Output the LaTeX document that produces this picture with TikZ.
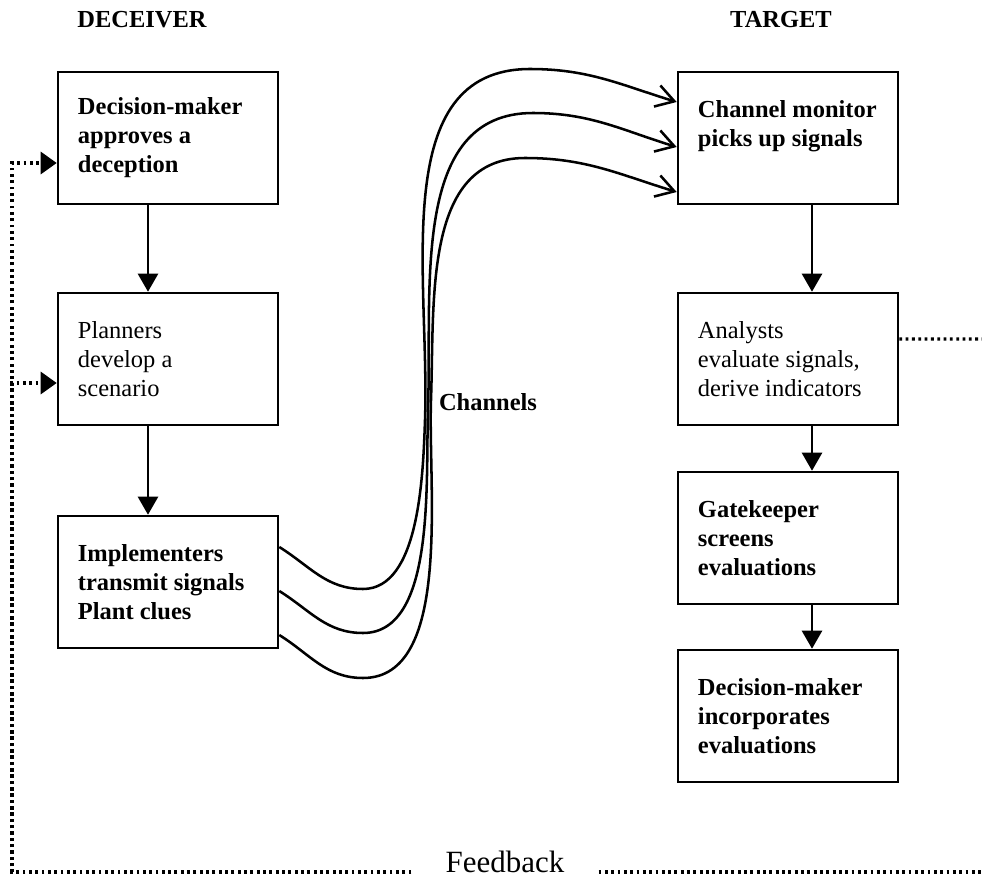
\documentclass[tikz,border=0pt]{standalone}
\usepackage{fontspec}
\setmainfont{Liberation Serif}
\usetikzlibrary{arrows.meta}

\begin{document}
\begin{tikzpicture}[x=0.025cm,y=-0.025cm,
    box/.style={draw, line width=1.8pt, minimum width=5.5cm, minimum height=3.3cm,
        text width=4.5cm, inner xsep=0.5cm, align=flush left,
        font=\fontsize{17.4}{20.6}\selectfont},
    boldbox/.style={box, font=\fontsize{17.4}{20.6}\selectfont\bfseries},
    head/.style={font=\fontsize{17.4}{20.6}\selectfont\bfseries},
    flow/.style={line width=1.8pt, -{Triangle[width=0.5cm,length=0.45cm]}},
    chan/.style={line width=1.8pt, -{Straight Barb[width=0.55cm,length=0.45cm]}},
    fback/.style={line width=2.2pt, dash pattern=on 2pt off 2.5pt}]
    \useasboundingbox (0,0) rectangle (982,880);

    \node[head] (dec) at (142,20) {DECEIVER};
    \node[head] (tgt) at (781,20) {TARGET};

    % deceiver side
    \node[boldbox] (dm) at (168,138) {Decision-maker\\approves~a\\deception};
    \node[box] (plan) at (168,359) {Planners\\develop~a\\scenario};
    \node[boldbox] (imp) at (168,582) {Implementers\\transmit~signals\\Plant~clues};

    % target side
    \node[boldbox] (mon) at (788,138) {Channel~monitor\\picks~up~signals\\\mbox{}};
    \node[box] (ana) at (788,359) {Analysts\\evaluate~signals,\\derive~indicators};
    \node[boldbox] (gate) at (788,538) {Gatekeeper\\screens\\evaluations};
    \node[boldbox] (inc) at (788,716) {Decision-maker\\incorporates\\evaluations};

    \draw[flow] ([xshift=-0.5cm]dm.south) -- ([xshift=-0.5cm]plan.north);
    \draw[flow] ([xshift=-0.5cm]plan.south) -- ([xshift=-0.5cm]imp.north);
    \draw[flow] ([xshift=0.6cm]mon.south) -- ([xshift=0.6cm]ana.north);
    \draw[flow] ([xshift=0.6cm]ana.south) -- ([xshift=0.6cm]gate.north);
    \draw[flow] ([xshift=0.6cm]gate.south) -- ([xshift=0.6cm]inc.north);

    % channels
    \draw[chan] ([yshift=0.875cm]imp.east) to[out=-32,in=180] (363,589)
        to[out=0,in=-92,looseness=0.8] (425,420) to[out=88,in=180] (530,69)
        to[out=0,in=163] ([yshift=0.9cm]mon.west);
    \draw[chan] ([yshift=-0.225cm]imp.east) to[out=-32,in=180] (363,633)
        to[out=0,in=-92,looseness=0.8] (428,410) to[out=88,in=180] (533,113)
        to[out=0,in=163] ([yshift=-0.225cm]mon.west);
    \draw[chan] ([yshift=-1.325cm]imp.east) to[out=-32,in=180] (363,678)
        to[out=0,in=-92,looseness=0.8] (431,400) to[out=88,in=180] (525,158)
        to[out=0,in=163] ([yshift=-1.35cm]mon.west);
    \node[head] (chl) at (488,402) {Channels};

    % feedback loop
    \node[font=\fontsize{22}{26}\selectfont, anchor=base, inner xsep=0.85cm] (fb) at (505,872) {Feedback};
    \coordinate (fbc) at (12,872);
    \coordinate (fbr) at (982,872);
    \coordinate (fbt) at (982,339);
    \draw[fback, -{Triangle[width=0.55cm,length=0.4cm]}] (fb.base west) -- (fbc) |- ([yshift=-0.625cm]dm.west);
    \draw[fback, -{Triangle[width=0.55cm,length=0.4cm]}] (fbc) |- ([yshift=-0.6cm]plan.west);
    \draw[fback] (fb.base east) -- (fbr);
    \draw[fback] ([yshift=0.5cm]ana.east) -- (fbt);
\end{tikzpicture}
\end{document}
